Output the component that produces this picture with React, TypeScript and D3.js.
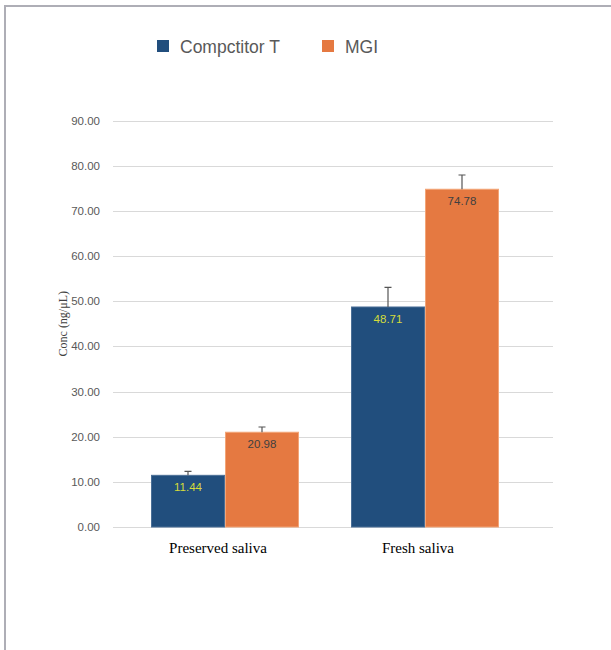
import React, { useEffect, useRef } from 'react';
import * as d3 from 'd3';

const categories = ['Preserved saliva', 'Fresh saliva'];
const seriesNames = ['Compctitor T', 'MGI'];
const competitorValues = [11.44, 48.71];
const mgiValues = [20.98, 74.78];
const competitorErrors = [0.89, 4.36];
const mgiErrors = [1.16, 3.15];
const yTicks = [0, 10, 20, 30, 40, 50, 60, 70, 80, 90];

const colors = ['#214e7d', '#e57941'];
const edgeColors = ['#4b6f97', '#f3a577'];
const labelColors = ['#d5dc3a', '#404040'];

const App: React.FC = () => {
  const svgRef = useRef<SVGSVGElement>(null);

  useEffect(() => {
    if (!svgRef.current) return;
    const svg = d3.select(svgRef.current);
    svg.selectAll('*').remove();

    const width = 611;
    const height = 650;

    // frame around the chart area
    svg.append('line').attr('x1', 4).attr('x2', width).attr('y1', 6).attr('y2', 6)
      .attr('stroke', '#aeaeb6').attr('stroke-width', 2);
    svg.append('line').attr('x1', 5).attr('x2', 5).attr('y1', 5).attr('y2', height)
      .attr('stroke', '#aeaeb6').attr('stroke-width', 2);

    const x0 = d3.scaleBand<string>()
      .domain(categories)
      .range([125, 525])
      .paddingInner(0.26)
      .paddingOuter(0.13);

    const x1 = d3.scaleBand<string>()
      .domain(seriesNames)
      .range([0, x0.bandwidth()]);

    const y = d3.scaleLinear().domain([0, 90]).range([527, 120.5]);

    // grid
    svg.append('g')
      .selectAll('line')
      .data(yTicks)
      .enter()
      .append('line')
      .attr('x1', 113)
      .attr('x2', 553)
      .attr('y1', (d) => Math.round(y(d)) + 0.5)
      .attr('y2', (d) => Math.round(y(d)) + 0.5)
      .attr('stroke', '#d9d9d9')
      .attr('stroke-width', 1.2);

    svg.append('g')
      .selectAll('text')
      .data(yTicks)
      .enter()
      .append('text')
      .attr('x', 100)
      .attr('y', (d) => y(d) + 4)
      .attr('text-anchor', 'end')
      .attr('font-family', 'Liberation Sans, Arial, sans-serif')
      .attr('font-size', 11.5)
      .attr('fill', '#595959')
      .text((d) => d.toFixed(2));

    svg.append('text')
      .attr('transform', `translate(67,${(y(0) + y(90)) / 2}) rotate(-90)`)
      .attr('text-anchor', 'middle')
      .attr('font-family', 'Liberation Serif, Times New Roman, serif')
      .attr('font-size', 12)
      .attr('fill', '#404040')
      .text('Conc (ng/μL)');

    const series = [
      { name: seriesNames[0], values: competitorValues, errors: competitorErrors },
      { name: seriesNames[1], values: mgiValues, errors: mgiErrors },
    ];

    series.forEach((s, si) => {
      const g = svg.append('g');
      const data = categories.map((c, i) => ({ c, v: s.values[i], e: s.errors[i] }));
      const bx = (d: { c: string }) => (x0(d.c) || 0) + (x1(s.name) || 0);

      g.selectAll('rect')
        .data(data)
        .enter()
        .append('rect')
        .attr('x', (d) => bx(d) + 0.5)
        .attr('y', (d) => y(d.v))
        .attr('width', x1.bandwidth() - 1)
        .attr('height', (d) => y(0) - y(d.v))
        .attr('fill', colors[si])
        .attr('stroke', edgeColors[si])
        .attr('stroke-width', 1);

      // error bars (plus side only)
      g.selectAll('.err')
        .data(data)
        .enter()
        .append('path')
        .attr('class', 'err')
        .attr('d', (d) => {
          const cx = bx(d) + x1.bandwidth() / 2;
          const top = y(d.v + d.e);
          return `M${cx},${y(d.v)}V${top}M${cx - 3.5},${top}H${cx + 3.5}`;
        })
        .attr('stroke', '#555')
        .attr('stroke-width', 1.2)
        .attr('fill', 'none');

      g.selectAll('.lbl')
        .data(data)
        .enter()
        .append('text')
        .attr('class', 'lbl')
        .attr('x', (d) => bx(d) + x1.bandwidth() / 2)
        .attr('y', (d) => y(d.v) + 16)
        .attr('text-anchor', 'middle')
        .attr('font-family', 'Liberation Sans, Arial, sans-serif')
        .attr('font-size', 11.5)
        .attr('fill', labelColors[si])
        .text((d) => d.v.toFixed(2));
    });

    svg.append('g')
      .selectAll('text')
      .data(categories)
      .enter()
      .append('text')
      .attr('x', (d) => (x0(d) || 0) + x0.bandwidth() / 2 - 7)
      .attr('y', 553)
      .attr('text-anchor', 'middle')
      .attr('font-family', 'Liberation Serif, Times New Roman, serif')
      .attr('font-size', 15)
      .attr('fill', '#000')
      .text((d) => d);

    // legend
    const legendX = [157, 322];
    const legend = svg.append('g');
    seriesNames.forEach((name, i) => {
      legend.append('rect')
        .attr('x', legendX[i])
        .attr('y', 40)
        .attr('width', 12)
        .attr('height', 12)
        .attr('fill', colors[i]);
      legend.append('text')
        .attr('x', legendX[i] + 23)
        .attr('y', 52.5)
        .attr('font-family', 'Liberation Sans, Arial, sans-serif')
        .attr('font-size', 17.5)
        .attr('fill', '#595959')
        .text(name);
    });
  }, []);

  return (
    <svg
      ref={svgRef}
      width={611}
      height={650}
      style={{ position: 'absolute', left: 0, top: 0, display: 'block', background: '#fff' }}
    />
  );
};

export default App;
